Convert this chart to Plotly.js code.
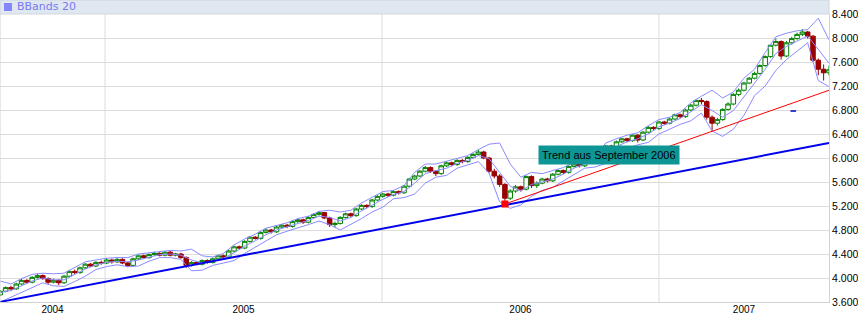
<!DOCTYPE html>
<html>
<head>
<meta charset="utf-8">
<script src="https://cdn.plot.ly/plotly-3.0.1.min.js"></script>
<style>
html,body{margin:0;padding:0;background:#fff;}
#chart{width:858px;height:315px;}
</style>
</head>
<body>
<div id="chart"></div>
<script>
// ---- weekly candles ----
const firstWeek = '2004-08-16';
const open = [3720,3780,3840,3820,3900,3960,3930,4010,4040,3990,3930,3960,3920,4030,4110,4090,4170,4230,4200,4260,
4250,4300,4270,4310,4250,4210,4320,4370,4340,4390,4410,4380,4430,4380,4400,4340,4210,4260,4230,4290,
4260,4320,4370,4350,4450,4520,4500,4610,4680,4660,4760,4800,4770,4850,4880,4860,4940,4970,4930,5010,
5060,5090,5000,4890,4910,5010,5070,5040,5150,5210,5190,5300,5360,5400,5380,5440,5420,5530,5650,5700,
5780,5840,5780,5740,5870,5920,5890,5960,5940,6010,6060,6100,6000,5780,5700,5560,5330,5450,5520,5480,
5690,5540,5580,5650,5620,5730,5790,5760,5860,5900,5870,5940,5980,6020,6110,6200,6180,6270,6320,6290,
6380,6300,6430,6510,6490,6600,6580,6650,6720,6690,6800,6880,6960,6940,6680,6580,6640,6810,6900,7060,
7130,7250,7330,7410,7540,7690,7880,7940,7700,7920,7990,8060,8100,8030,7630,7480,7420];
const high = [3800,3860,3870,3920,3990,3980,4030,4070,4060,4010,3990,3980,4050,4130,4140,4190,4250,4250,4280,4290,
4330,4320,4340,4330,4270,4340,4390,4390,4410,4440,4430,4450,4450,4420,4420,4360,4280,4280,4310,4310,
4340,4390,4390,4470,4540,4540,4630,4700,4700,4780,4830,4820,4870,4900,4900,4960,4990,4990,5030,5080,
5110,5100,5020,4940,5030,5090,5090,5170,5230,5230,5320,5380,5420,5420,5460,5460,5550,5670,5720,5800,
5870,5860,5800,5890,5940,5940,5980,5980,6030,6080,6140,6120,6020,5820,5730,5580,5480,5550,5540,5710,
5710,5610,5670,5670,5750,5810,5810,5880,5920,5920,5960,6000,6040,6130,6220,6220,6290,6340,6340,6400,
6400,6450,6530,6530,6620,6620,6670,6740,6740,6820,6900,6980,7000,6960,6710,6670,6830,6930,7080,7160,
7270,7350,7440,7560,7710,7900,7990,7960,7950,8020,8090,8150,8120,8050,7660,7560,7540];
const low = [3700,3760,3790,3800,3880,3900,3910,3990,3970,3900,3910,3880,3900,4010,4060,4070,4150,4180,4180,4220,
4230,4240,4250,4230,4180,4190,4300,4320,4320,4370,4360,4360,4360,4360,4320,4170,4190,4210,4210,4240,
4240,4300,4330,4330,4430,4480,4480,4590,4640,4640,4740,4740,4750,4830,4830,4840,4920,4900,4910,4990,
5040,4980,4850,4840,4890,4990,5010,5020,5130,5160,5170,5280,5340,5350,5360,5390,5400,5510,5630,5680,
5760,5750,5700,5720,5850,5860,5870,5910,5920,5990,6040,5980,5750,5660,5520,5233,5300,5420,5440,5460,
5500,5500,5560,5590,5600,5710,5730,5740,5840,5840,5850,5920,5960,6000,6090,6150,6160,6250,6260,6270,
6260,6280,6410,6460,6470,6550,6560,6630,6660,6670,6780,6860,6900,6640,6440,6540,6620,6790,6880,7030,
7110,7230,7310,7390,7520,7670,7860,7640,7680,7890,7970,8030,7990,7600,7380,7290,7380];
const close = [3780,3840,3820,3900,3960,3930,4010,4040,3990,3930,3960,3920,4030,4110,4090,4170,4230,4200,4260,4250,
4300,4270,4310,4250,4210,4320,4370,4340,4390,4410,4380,4430,4380,4400,4340,4210,4260,4230,4290,4260,
4320,4370,4350,4450,4520,4500,4610,4680,4660,4760,4800,4770,4850,4880,4860,4940,4970,4930,5010,5060,
5090,5000,4890,4910,5010,5070,5040,5150,5210,5190,5300,5360,5400,5380,5440,5420,5530,5650,5700,5780,
5840,5780,5740,5870,5920,5890,5960,5940,6010,6060,6100,6000,5780,5700,5560,5330,5450,5520,5480,5690,
5540,5580,5650,5620,5730,5790,5760,5860,5900,5870,5940,5980,6020,6110,6200,6180,6270,6320,6290,6380,
6300,6430,6510,6490,6600,6580,6650,6720,6690,6800,6880,6960,6940,6680,6580,6640,6810,6900,7060,7130,
7250,7330,7410,7540,7690,7880,7940,7700,7920,7990,8060,8100,8030,7630,7480,7420,7470];

// ---- Bollinger bands "BBands 20", read every second week from the picture ----
const bandFirstWeek = '2004-08-16';
const bandUpper = [3950,3900,3990,4060,4080,4070,4080,4180,4270,4300,4330,4340,4340,4400,4420,4440,4460,4450,4480,4370,
4350,4410,4550,4650,4730,4830,4880,4920,4990,5030,5110,5130,5100,5130,5250,5340,5440,5460,5540,5760,
5900,5900,5950,5990,6040,6140,6230,6250,5900,5680,5760,5740,5790,5840,5930,5970,6050,6250,6320,6380,
6420,6540,6640,6680,6760,6920,7030,7130,7000,7100,7330,7480,7760,8020,8080,8120,8140,8330,7970];
const bandMiddle = [3760,3790,3870,3950,4000,3970,3970,4060,4150,4220,4260,4280,4270,4300,4350,4390,4400,4380,4300,4250,
4280,4330,4420,4530,4620,4720,4800,4850,4910,4960,5030,5010,4950,5010,5120,5220,5310,5390,5440,5580,
5740,5790,5830,5910,5960,6040,5990,5760,5530,5450,5560,5600,5650,5730,5830,5900,5950,6080,6190,6270,
6320,6400,6520,6580,6660,6770,6890,6790,6680,6790,7020,7260,7480,7740,7860,7950,8030,7810,7580];
const bandLower = [3600,3680,3750,3840,3920,3870,3860,3940,4030,4140,4190,4220,4190,4200,4280,4340,4340,4310,4120,4130,
4210,4250,4290,4410,4510,4610,4720,4780,4830,4890,4950,4890,4800,4890,4990,5100,5180,5320,5340,5400,
5580,5680,5710,5830,5880,5940,5750,5270,5160,5220,5360,5460,5510,5620,5730,5830,5850,5910,6060,6160,
6220,6260,6400,6480,6560,6620,6750,6450,6360,6480,6710,7040,7200,7460,7640,7780,7920,7290,7190];

const yearLabels = ['2004','2005','2006','2007'];
const yTickValues = [3600,4000,4400,4800,5200,5600,6000,6400,6800,7200,7600,8000,8400];
const yTickLabels = ['3.600','4.000','4.400','4.800','5.200','5.600','6.000','6.400','6.800','7.200','7.600','8.000','8.400'];

const trendBlueDates = ['2004-08-15','2007-08-13'];
const trendBlueValues = [3600,6250];
const trendRedDates = ['2006-06-12','2007-08-14'];
const trendRedValues = [5233,7133];
const markDates = ['2007-06-27'];
const markValues = [6783];
const noteText = 'Trend aus September 2006';
const noteDate = '2006-10-27';
const noteValue = 6042;
const xRange = ['2004-08-15 14:00','2007-08-13 02:00'];

// ---- dates ----
function addDays(s, n){ const d = new Date(s+'T00:00:00Z'); d.setUTCDate(d.getUTCDate()+n); return d.toISOString().slice(0,10); }
const dates = close.map((_, i) => addDays(firstWeek, 7*i));
const bandDates = bandUpper.map((_, i) => addDays(bandFirstWeek, 14*i));

// ---- year label positions (middle of the visible part of each year) ----
const r0 = new Date(xRange[0].replace(' ','T')+'Z').getTime();
const r1 = new Date(xRange[1].replace(' ','T')+'Z').getTime();
const yearMid = yearLabels.map(y => {
  const a = Math.max(r0, Date.UTC(+y,0,1)), b = Math.min(r1, Date.UTC(+y+1,0,1));
  return new Date((a+b)/2).toISOString().slice(0,19).replace('T',' ');
});
const yearStarts = yearLabels.slice(1).map(y => y+'-01-01');

const bandColor = '#8a8aff';
const traces = [
  {type:'scatter', mode:'lines', x:bandDates, y:bandUpper, line:{color:bandColor,width:1}, hoverinfo:'skip'},
  {type:'scatter', mode:'lines', x:bandDates, y:bandMiddle, line:{color:bandColor,width:1}, hoverinfo:'skip'},
  {type:'scatter', mode:'lines', x:bandDates, y:bandLower, line:{color:bandColor,width:1}, hoverinfo:'skip'},
  {type:'scatter', mode:'lines', x:trendBlueDates, y:trendBlueValues, line:{color:'#0000ee',width:2}, hoverinfo:'skip'},
  {type:'candlestick', x:dates, open:open, high:high, low:low, close:close, whiskerwidth:0,
   increasing:{line:{color:'#008000',width:1}, fillcolor:'#ffffff'},
   decreasing:{line:{color:'#9a0000',width:1}, fillcolor:'#9a0000'}, hoverinfo:'skip'},
  {type:'scatter', mode:'lines+markers', x:trendRedDates, y:trendRedValues, cliponaxis:false,
   line:{color:'#ff0000',width:1}, marker:{symbol:'square', size:7, color:'#ff0000'}, hoverinfo:'skip'},
  {type:'scatter', mode:'markers', x:markDates, y:markValues,
   marker:{symbol:'line-ew', size:4, line:{color:'#0000cc',width:1.5}}, hoverinfo:'skip'}
];

const shapes = yearStarts.map(d => ({type:'line', xref:'x', yref:'paper', x0:d, x1:d, y0:0, y1:1,
  line:{color:'#dcdcdc', width:1}, layer:'below'}));
shapes.push({type:'rect', xref:'paper', yref:'paper', x0:0, x1:1, y0:1, y1:1+14/288,
  fillcolor:'#dfe7f1', line:{color:'#d2d6db', width:1}, layer:'above'});
shapes.push({type:'rect', xref:'paper', yref:'paper', xsizemode:'pixel', ysizemode:'pixel',
  xanchor:0, x0:4, x1:12, yanchor:1+7/288, y0:-4, y1:4, fillcolor:'#8585ff', line:{width:0}});
shapes.push({type:'line', xref:'paper', yref:'paper', x0:0, x1:0, y0:0, y1:1, line:{color:'#d2d2d2', width:1}});

const layout = {
  width:858, height:315,
  margin:{l:0, r:29, t:14, b:13, pad:0},
  paper_bgcolor:'#ffffff', plot_bgcolor:'#ffffff',
  showlegend:false, hovermode:false, boxgap:0.15, boxgroupgap:0,
  font:{family:'"Liberation Sans", Arial, sans-serif', size:10.5, color:'#000'},
  xaxis:{type:'date', range:xRange, rangeslider:{visible:false}, tickvals:yearMid, ticktext:yearLabels,
    showgrid:false, zeroline:false, showline:true, linecolor:'#d2d2d2', linewidth:1, ticks:'',
    ticklabelstandoff:-2, tickfont:{size:10, color:'#000'}, fixedrange:true},
  yaxis:{side:'right', range:[3600,8400], tickvals:yTickValues, ticktext:yTickLabels,
    showgrid:true, gridcolor:'#dcdcdc', gridwidth:1, zeroline:false, showline:true, linecolor:'#d2d2d2',
    ticks:'', tickfont:{size:10.5, color:'#000'}, fixedrange:true},
  shapes:shapes,
  annotations:[
    {xref:'paper', yref:'paper', x:0, y:1+7/288, xshift:15, xanchor:'left', yanchor:'middle',
     text:'BBands 20', showarrow:false, font:{size:11, color:'#7878f0', family:'"DejaVu Sans", sans-serif'}},
    {xref:'x', yref:'y', x:noteDate, y:noteValue, text:noteText, showarrow:false,
     bgcolor:'#0e9595', borderpad:3, font:{size:11, color:'#000'}}
  ]
};

Plotly.newPlot('chart', traces, layout, {staticPlot:true, displayModeBar:false});
</script>
</body>
</html>
